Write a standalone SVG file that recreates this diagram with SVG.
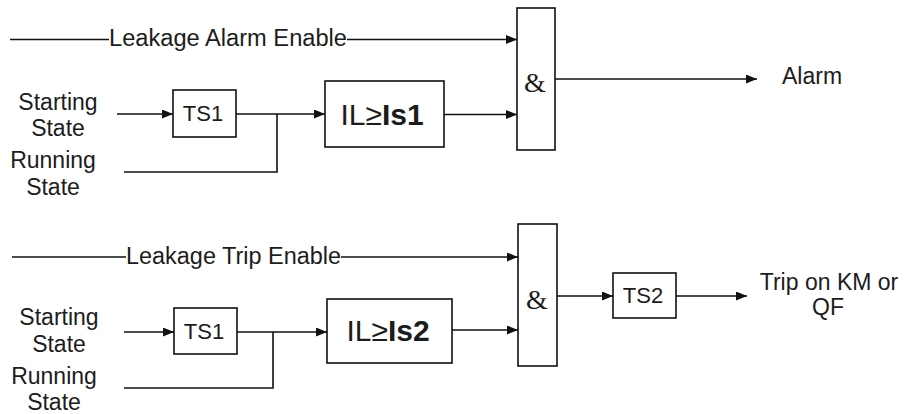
<svg xmlns="http://www.w3.org/2000/svg" width="904" height="414" viewBox="0 0 904 414">
<defs>
<marker id="arr" markerUnits="userSpaceOnUse" markerWidth="11" markerHeight="9" refX="11" refY="4.5" orient="auto"><path d="M0,0 L11,4.5 L0,9 z" fill="#111"/></marker>
<style>
.box{fill:#fff;stroke:#111;stroke-width:1.6}
.ln{fill:none;stroke:#111;stroke-width:1.6}
.ar{fill:none;stroke:#111;stroke-width:1.6;marker-end:url(#arr)}
.t{font-family:"Liberation Sans",Arial,sans-serif;font-size:23px;fill:#1c1c1c}
.c{text-anchor:middle}
.ts{font-family:"Liberation Sans",Arial,sans-serif;font-size:22px;fill:#1c1c1c;text-anchor:middle}
.il{font-family:"Liberation Sans",Arial,sans-serif;font-size:30px;fill:#1c1c1c;text-anchor:middle}
.amp{font-family:"Liberation Serif","Times New Roman",serif;font-size:28px;fill:#1c1c1c;text-anchor:middle}
</style>
</defs>
<rect width="904" height="414" fill="#fff"/>
<g id="connectors">
<line class="ln" x1="10" y1="39.5" x2="109" y2="39.5"/>
<line class="ar" x1="347" y1="39.5" x2="517" y2="39.5"/>
<line class="ar" x1="117" y1="114" x2="173" y2="114"/>
<line class="ar" x1="236" y1="114" x2="325" y2="114"/>
<polyline class="ln" points="124,172 277,172 277,114"/>
<line class="ar" x1="444" y1="114.5" x2="517" y2="114.5"/>
<line class="ar" x1="555" y1="79" x2="757" y2="79"/>
<line class="ln" x1="12" y1="257" x2="126" y2="257"/>
<line class="ar" x1="341" y1="257" x2="518" y2="257"/>
<line class="ar" x1="124" y1="332" x2="174" y2="332"/>
<line class="ar" x1="237" y1="332" x2="327" y2="332"/>
<polyline class="ln" points="124,388 273,388 273,332"/>
<line class="ar" x1="452" y1="330" x2="518" y2="330"/>
<line class="ar" x1="557" y1="296" x2="613" y2="296"/>
<line class="ar" x1="676" y1="296" x2="747" y2="296"/>
</g>
<g id="alarm-enable"><text class="t" x="109" y="46" textLength="238" lengthAdjust="spacingAndGlyphs">Leakage Alarm Enable</text></g>
<g id="starting1"><text class="t c" x="58" y="110">Starting</text><text class="t c" x="58" y="136">State</text></g>
<g id="running1"><text class="t c" x="53" y="168">Running</text><text class="t c" x="53" y="195">State</text></g>
<g id="ts1-top"><rect class="box" x="173" y="90" width="63" height="47"/><text class="ts" x="203" y="121">TS1</text></g>
<g id="il-is1"><rect class="box" x="325" y="81" width="119" height="66"/><text class="il" x="382" y="125">IL≥<tspan font-weight="bold">Is1</tspan></text></g>
<g id="and1"><rect class="box" x="517" y="8" width="38" height="142"/><text class="amp" x="535" y="92">&amp;</text></g>
<g id="alarm"><text class="t" x="782" y="84">Alarm</text></g>
<g id="trip-enable"><text class="t" x="126" y="264" textLength="215" lengthAdjust="spacingAndGlyphs">Leakage Trip Enable</text></g>
<g id="starting2"><text class="t c" x="59" y="325">Starting</text><text class="t c" x="59" y="352">State</text></g>
<g id="running2"><text class="t c" x="54" y="384">Running</text><text class="t c" x="54" y="410">State</text></g>
<g id="ts1-bottom"><rect class="box" x="174" y="308" width="63" height="46"/><text class="ts" x="204" y="339">TS1</text></g>
<g id="il-is2"><rect class="box" x="327" y="299" width="125" height="64"/><text class="il" x="388" y="341">IL≥<tspan font-weight="bold">Is2</tspan></text></g>
<g id="and2"><rect class="box" x="518" y="224" width="39" height="142"/><text class="amp" x="537" y="309">&amp;</text></g>
<g id="ts2"><rect class="box" x="613" y="273" width="63" height="45"/><text class="ts" x="643" y="303">TS2</text></g>
<g id="trip"><text class="t c" x="829" y="290">Trip on KM or</text><text class="t c" x="828" y="315">QF</text></g>
</svg>
